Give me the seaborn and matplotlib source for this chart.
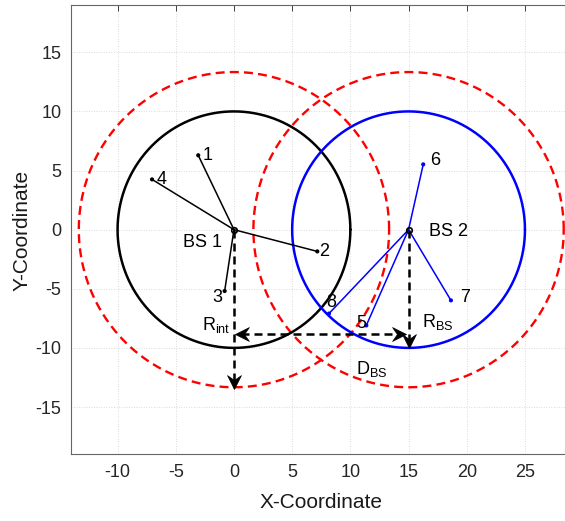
import numpy as np
import pandas as pd
import matplotlib
matplotlib.use("Agg")
import matplotlib.pyplot as plt
from matplotlib.path import Path
import seaborn as sns

# ---------------- data ----------------
bs_names = ["BS 1", "BS 2"]
bs_x = [0.0, 15.0]
bs_y = [0.0, 0.0]
bs_colors = ["black", "blue"]
r_bs = 10.0
r_int = 13.33

user_ids = ["1", "2", "3", "4", "5", "6", "7", "8"]
user_x = [-3.07, 7.16, -0.80, -7.04, 11.37, 16.26, 18.64, 8.16]
user_y = [6.29, -1.84, -5.19, 4.25, -8.10, 5.52, -5.98, -7.10]
user_bs = [0, 0, 0, 0, 1, 1, 1, 1]

x_ticks = [-10, -5, 0, 5, 10, 15, 20, 25]
y_ticks = [-15, -10, -5, 0, 5, 10, 15]

# ---------------- style ----------------
sns.set_theme(style="white")
plt.rcParams["font.family"] = ["Liberation Sans", "DejaVu Sans"]
plt.rcParams["mathtext.fontset"] = "custom"
plt.rcParams["mathtext.rm"] = "Liberation Sans"
plt.rcParams["mathtext.it"] = "Liberation Sans:italic"
plt.rcParams["text.color"] = "black"

fig = plt.figure(figsize=(5.65, 5.21), dpi=100)
ax = fig.add_axes([71 / 565, (521 - 454.3) / 521, 494.7 / 565, 449.3 / 521])

theta = np.linspace(0, 2 * np.pi, 721)

# interference circles (red dashed)
for cx, cy in zip(bs_x, bs_y):
    circ = pd.DataFrame({"x": cx + r_int * np.cos(theta), "y": cy + r_int * np.sin(theta)})
    sns.lineplot(data=circ, x="x", y="y", sort=False, estimator=None, ax=ax,
                 color="#ff0000", lw=1.7, zorder=2)
    ax.lines[-1].set_linestyle((0, (3.8, 2.2)))

# coverage circles
for cx, cy, col in zip(bs_x, bs_y, bs_colors):
    circ = pd.DataFrame({"x": cx + r_bs * np.cos(theta), "y": cy + r_bs * np.sin(theta)})
    sns.lineplot(data=circ, x="x", y="y", sort=False, estimator=None, ax=ax,
                 color=col, lw=1.8, zorder=3)

# user links
for ux, uy, b in zip(user_x, user_y, user_bs):
    ax.plot([bs_x[b], ux], [bs_y[b], uy], color=bs_colors[b], lw=1.1, zorder=4)

users = pd.DataFrame({"x": user_x, "y": user_y,
                      "bs": [bs_colors[b] for b in user_bs]})
sns.scatterplot(data=users, x="x", y="y", hue="bs", palette={"black": "black", "blue": "blue"},
                s=9, edgecolor="none", legend=False, ax=ax, zorder=5)

# base stations
ax.plot(bs_x, bs_y, "o", ms=4, mfc="none", mec="black", mew=1.2, zorder=6)

# user labels
label_dx = [0.35, 0.14, -1.06, 0.40, -0.87, 0.60, 0.75, -0.26]
label_dy = [0.00, 0.00, -0.55, 0.00, 0.15, 0.35, 0.20, 0.98]
for uid, ux, uy, dx, dy in zip(user_ids, user_x, user_y, label_dx, label_dy):
    ax.text(ux + dx, uy + dy, uid, fontsize=13, ha="left", va="center",
            color="black", zorder=7)

# BS labels
ax.text(bs_x[0] - 4.36, bs_y[0] - 1.47, bs_names[0], fontsize=13, ha="left",
        va="baseline", color="black")
ax.text(bs_x[1] + 1.75, bs_y[1] - 0.54, bs_names[1], fontsize=13, ha="left",
        va="baseline", color="black")

# dashed arrows with MATLAB-like concave heads
dash = (0, (3.2, 2.0))
arr_y = -8.8


def head_marker(angle_deg):
    # tip at origin, pointing along +x, concave back
    v = np.array([[0.0, 0.0], [-1.0, 0.5], [-0.65, 0.0], [-1.0, -0.5], [0.0, 0.0]])
    # invisible point so that the marker is centred on the tip
    v = np.vstack([v, [[1.0, 0.0]]])
    a = np.deg2rad(angle_deg)
    R = np.array([[np.cos(a), -np.sin(a)], [np.sin(a), np.cos(a)]])
    v = v @ R.T
    codes = [Path.MOVETO, Path.LINETO, Path.LINETO, Path.LINETO, Path.CLOSEPOLY, Path.MOVETO]
    return Path(v, codes)


def head(tip, angle):
    ax.plot([tip[0]], [tip[1]], marker=head_marker(angle), ms=20, color="black",
            mec="black", mew=0.5, linestyle="none", zorder=8)


tip1 = (bs_x[0], bs_y[0] - 13.5)
ax.plot([bs_x[0], tip1[0]], [bs_y[0], tip1[1] + 0.6], color="black", lw=1.8,
        linestyle=dash, zorder=7)
head(tip1, -90)

tip2 = (bs_x[1], bs_y[1] - r_bs)
ax.plot([bs_x[1], tip2[0]], [bs_y[1], tip2[1] + 0.6], color="black", lw=1.8,
        linestyle=dash, zorder=7)
head(tip2, -90)

ax.plot([bs_x[0] + 0.6, bs_x[1] - 0.8], [arr_y, arr_y], color="black", lw=1.8,
        linestyle=dash, zorder=7)
head((bs_x[0] + 0.1, arr_y), 180)
head((bs_x[1] - 0.25, arr_y), 0)

ax.text(-2.73, -8.52, r"R$_{\mathrm{int}}$", fontsize=13, ha="left", va="baseline",
        color="black", zorder=9)
ax.text(16.12, -8.24, r"R$_{\mathrm{BS}}$", fontsize=13, ha="left", va="baseline",
        color="black", zorder=9)
ax.text(10.5, -12.18, r"D$_{\mathrm{BS}}$", fontsize=13, ha="left", va="baseline",
        color="black", zorder=9)

# ---------------- axes ----------------
ax.set_xlim(-14, 28.5)
ax.set_ylim(-19, 19)
ax.set_xticks(x_ticks)
ax.set_yticks(y_ticks)
ax.set_xticklabels([str(t) for t in x_ticks])
ax.set_yticklabels([str(t) for t in y_ticks])
ax.grid(True, linestyle=(0, (1, 2)), color="#cfcfcf", lw=0.6)
ax.set_axisbelow(True)
ax.tick_params(direction="in", length=4, width=0.7, color="#404040",
               labelsize=13, labelcolor="#262626", top=True, right=False, pad=7)
for s in ["left", "bottom", "top"]:
    ax.spines[s].set_visible(True)
    ax.spines[s].set_color("#666666")
    ax.spines[s].set_linewidth(0.8)
ax.spines["right"].set_visible(False)

ax.set_xlabel("X-Coordinate", fontsize=15, color="#1a1a1a")
ax.set_ylabel("Y-Coordinate", fontsize=15, color="#1a1a1a")
ax.xaxis.set_label_coords((321 - 71) / 494.7, (454.3 - 502.7) / 449.3)
ax.xaxis.label.set_va("center")
ax.yaxis.set_label_coords((21.7 - 71) / 494.7, (454.3 - 230.7) / 449.3)
ax.yaxis.label.set_va("center")

fig.savefig("out.png", dpi=100)
